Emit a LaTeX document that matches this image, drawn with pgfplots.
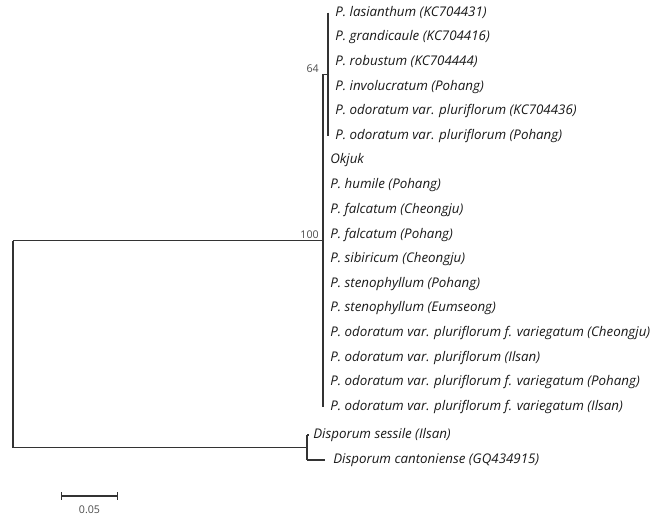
\documentclass[border=0pt]{standalone}
\usepackage{pgfplots}
\pgfplotsset{compat=1.18}
\usepackage{fontspec}
\setmainfont{Open Sans}
\begin{document}
\begin{tikzpicture}[
  leaf/.style={anchor=west, inner sep=0pt, font=\fontsize{10}{12}\selectfont\itshape, text=black!90},
  boot/.style={anchor=south east, inner sep=0pt, font=\fontsize{8}{9}\selectfont, text=black!70},
  br/.style={black!80, line width=0.8pt},
]
\begin{axis}[
  scale only axis, width=498pt, height=396.75pt,
  xmin=-0.01169, xmax=0.58543, ymin=0, ymax=529, y dir=reverse,
  axis lines=none, clip=false,
]
% root
\addplot[br] coordinates {(0,240.6) (0,447.5)};
\addplot[br] coordinates {(0,240.6) (0.2788,240.6)};
\addplot[br] coordinates {(0,447.5) (0.2644,447.5)};
% Polygonatum clade
\addplot[br] coordinates {(0.2788,74.3) (0.2788,406.9)};
\addplot[br] coordinates {(0.2788,74.3) (0.2833,74.3)};
\addplot[br] coordinates {(0.2833,12.7) (0.2833,135.9)};
% Disporum clade
\addplot[br] coordinates {(0.2644,435) (0.2644,460)};
\addplot[br] coordinates {(0.2644,435) (0.2662,435)};
\addplot[br] coordinates {(0.2644,460) (0.2806,460)};
% scale bar
\addplot[br] coordinates {(0.0438,496) (0.0938,496)};
\addplot[br] coordinates {(0.0438,492) (0.0438,500)};
\addplot[br] coordinates {(0.0938,492) (0.0938,500)};

\node[leaf] at (axis cs:0.2896,12.7) {P. lasianthum (KC704431)};
\node[leaf] at (axis cs:0.2896,37.3) {P. grandicaule (KC704416)};
\node[leaf] at (axis cs:0.2896,61.9) {P. robustum (KC704444)};
\node[leaf] at (axis cs:0.2896,86.6) {P. involucratum (Pohang)};
\node[leaf] at (axis cs:0.2896,111.3) {P. odoratum var. pluriflorum (KC704436)};
\node[leaf] at (axis cs:0.2896,135.9) {P. odoratum var. pluriflorum (Pohang)};
\node[leaf] at (axis cs:0.2851,160.5) {Okjuk};
\node[leaf] at (axis cs:0.2851,185.2) {P. humile (Pohang)};
\node[leaf] at (axis cs:0.2851,209.8) {P. falcatum (Cheongju)};
\node[leaf] at (axis cs:0.2851,234.5) {P. falcatum (Pohang)};
\node[leaf] at (axis cs:0.2851,259.1) {P. sibiricum (Cheongju)};
\node[leaf] at (axis cs:0.2851,283.7) {P. stenophyllum (Pohang)};
\node[leaf] at (axis cs:0.2851,308.4) {P. stenophyllum (Eumseong)};
\node[leaf] at (axis cs:0.2851,333.0) {P. odoratum var. pluriflorum f. variegatum (Cheongju)};
\node[leaf] at (axis cs:0.2851,357.7) {P. odoratum var. pluriflorum (Ilsan)};
\node[leaf] at (axis cs:0.2851,382.3) {P. odoratum var. pluriflorum f. variegatum (Pohang)};
\node[leaf] at (axis cs:0.2851,406.9) {P. odoratum var. pluriflorum f. variegatum (Ilsan)};
\node[leaf] at (axis cs:0.2698,435) {Disporum sessile (Ilsan)};
\node[leaf] at (axis cs:0.2878,460) {Disporum cantoniense (GQ434915)};

\node[boot] at (axis cs:0.2752,72.5) {64};
\node[boot] at (axis cs:0.2752,238.8) {100};
\node[anchor=north, inner sep=0pt, font=\fontsize{8}{9}\selectfont, text=black!70] at (axis cs:0.0688,505) {0.05};
\end{axis}
\path (current axis.south west) rectangle (current axis.north east);
\end{tikzpicture}
\end{document}
